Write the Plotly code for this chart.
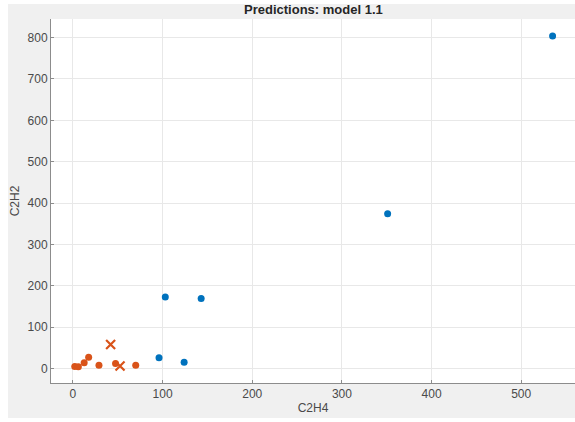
import plotly.graph_objects as go

# C2H4 / C2H2 predictions for model 1.1
class1_c2h4 = [535, 351, 103, 143, 96, 124]
class1_c2h2 = [804, 374, 173, 169, 26, 15]

class2_c2h4 = [2, 6, 12.5, 17.5, 29, 47.5, 70]
class2_c2h2 = [5, 4.5, 14, 27, 8, 12, 8]

miss_c2h4 = [42, 52.5]
miss_c2h2 = [58, 6]

x_ticks = [0, 100, 200, 300, 400, 500]
y_ticks = [0, 100, 200, 300, 400, 500, 600, 700, 800]

BLUE = "#0072BD"
ORANGE = "#D95319"
FONT = "Liberation Sans, Arial, sans-serif"

fig = go.Figure()
fig.add_trace(go.Scatter(
    x=class1_c2h4, y=class1_c2h2, mode="markers",
    marker=dict(color=BLUE, size=7, line=dict(width=0)),
    showlegend=False))
fig.add_trace(go.Scatter(
    x=class2_c2h4, y=class2_c2h2, mode="markers",
    marker=dict(color=ORANGE, size=7, line=dict(width=0)),
    showlegend=False))
fig.add_trace(go.Scatter(
    x=miss_c2h4, y=miss_c2h2, mode="markers",
    marker=dict(color=ORANGE, size=9, symbol="x-thin",
                line=dict(width=2.2, color=ORANGE)),
    showlegend=False))

axis_common = dict(
    showgrid=True, gridcolor="#e8e8e8", gridwidth=1,
    zeroline=False, showline=True, linecolor="#8c8c8c", linewidth=1,
    ticks="inside", ticklen=3, tickcolor="#8c8c8c",
    tickfont=dict(family=FONT, size=12, color="#4a4a4a"),
    title_font=dict(family=FONT, size=12, color="#4a4a4a"),
)

fig.update_layout(
    width=575, height=422,
    margin=dict(l=51, r=0, t=19, b=39),
    paper_bgcolor="#f0f0f0", plot_bgcolor="white",
    title=dict(text="<b>Predictions: model 1.1</b>", x=0.545, xanchor="center",
               y=0.977, yanchor="middle",
               font=dict(family=FONT, size=13, color="#262626")),
    xaxis=dict(range=[-24.5, 560], tickvals=x_ticks,
               title=dict(text="C2H4", standoff=3), **axis_common),
    yaxis=dict(range=[-35, 845], tickvals=y_ticks,
               title=dict(text="C2H2", standoff=5), **axis_common),
)

# thin white border around the figure
for x0, x1, y0, y1 in [(0, 8, 0, 422), (0, 575, 0, 4), (0, 575, 418, 422)]:
    fig.add_shape(type="rect", xref="paper", yref="paper",
                  x0=(x0 - 51) / 524, x1=(x1 - 51) / 524,
                  y0=(383 - y1) / 364, y1=(383 - y0) / 364,
                  fillcolor="white", line_width=0, layer="below")

fig.write_html("out.html")
